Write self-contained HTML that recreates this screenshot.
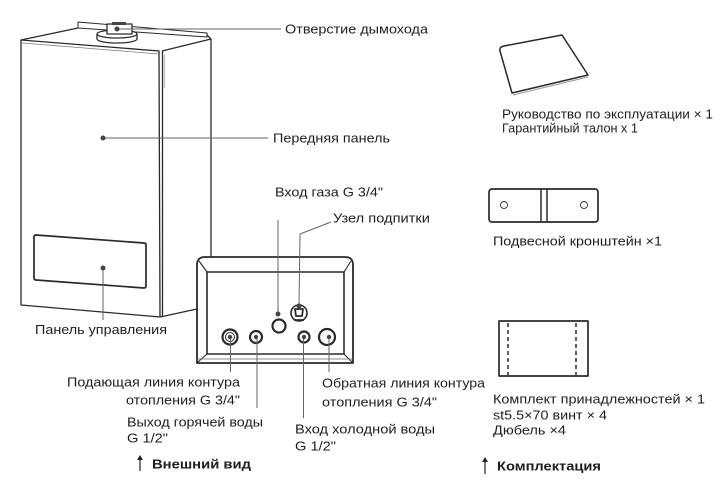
<!DOCTYPE html>
<html><head><meta charset="utf-8"><style>
html,body{margin:0;padding:0;background:#fff;}
svg{display:block;}
text{font-family:"Liberation Sans","Noto Sans CJK SC",sans-serif;font-size:13px;fill:#1e1e1e;}
.b{font-weight:bold;}
</style></head><body>
<svg width="724" height="484" viewBox="0 0 724 484" xmlns="http://www.w3.org/2000/svg">
<g fill="none" stroke="#2a2a2a" stroke-width="1.3" stroke-linejoin="round">
  <!-- boiler front face -->
  <path d="M21,40 L159,51 L160,317 L21,305 Z"/>
  <path d="M22,43 L159,54" stroke-width="0.7" stroke="#777"/>
  <line x1="162.5" y1="51" x2="162.5" y2="316"/>
  <line x1="164.5" y1="55" x2="164.5" y2="88" stroke="#999" stroke-width="0.7"/>
  <!-- side -->
  <path d="M162,51 L211,39 L211,257"/>
  <path d="M160,317 L197,309"/>
  <!-- top back edges -->
  <path d="M21,40 L78,28"/>
  <path d="M207,35 L211,39"/>
  <!-- plate -->
  <path d="M78,22 L207,33 L207,37 L78,28 Z" stroke-width="1"/>
  <!-- flue -->
  <path d="M97,34 L97,39 A20,4 0 0 0 137,39 L137,34" fill="#fff"/>
  <ellipse cx="117" cy="34" rx="20" ry="4" fill="#fff"/>
  <rect x="107" y="24" width="25" height="10" fill="#fff"/>
  <rect x="112" y="22" width="14" height="3" fill="#444" stroke="none"/>
  <!-- control panel -->
  <path d="M36,235 L144,243 Q146,243 146,245 L146,286 Q146,288 144,288 L36,280 Q34,280 34,278 L34,237 Q34,235 36,235 Z" stroke-width="1.7"/>
  <!-- bottom panel -->
  <path d="M205,257 L345,257 Q353,257 353,265 L353,363 L197,363 L197,265 Q197,257 205,257 Z" fill="#fff" stroke-width="1.8"/>
  <rect x="207" y="272" width="137" height="82" stroke-width="1.6"/>
  <path d="M199,261 L207,272 M351,261 L344,272 M198,362 L207,354 M352,362 L344,354" stroke-width="1.1"/>
  <path d="M197,359 L353,359" stroke-width="0.8" stroke="#666"/>
  <!-- connectors -->
  <circle cx="230" cy="337" r="7.5" stroke-width="2.2"/>
  <circle cx="230" cy="337" r="4.5" stroke-width="1"/>
  <circle cx="256" cy="337" r="6" stroke-width="2.2"/>
  <circle cx="304" cy="337" r="5.5" stroke-width="2.2"/>
  <circle cx="327" cy="337" r="8" stroke-width="2.2"/>
  <circle cx="279" cy="326" r="6.5" stroke-width="2.2"/>
  <circle cx="299" cy="313" r="8" stroke-width="1.6"/>
  <path d="M295,309 L303,309 L302,316 L296,316 Z M294,320 L304,320" stroke-width="1.8"/>
  <!-- kit items -->
  <path d="M504,46 L562,35 L588,75 L512,93 L500,51 Q499,47 504,46 Z" stroke-width="1.5"/>
  <path d="M513,95 L588,77" stroke="#999" stroke-width="1"/>
  <rect x="489" y="189" width="109" height="33" rx="3" stroke-width="1.7"/>
  <line x1="541" y1="189" x2="541" y2="222" stroke-width="1.5"/>
  <line x1="547" y1="189" x2="547" y2="222" stroke-width="1.5"/>
  <circle cx="504" cy="205" r="3.5" stroke-width="0.9"/>
  <circle cx="584" cy="205" r="3.5" stroke-width="0.9"/>
  <rect x="499" y="321" width="89" height="55" stroke-width="1.7"/>
  <line x1="508" y1="323" x2="508" y2="375" stroke-dasharray="4,3" stroke-width="1.5"/>
  <line x1="576" y1="323" x2="576" y2="375" stroke-dasharray="4,3" stroke-width="1.5"/>
</g>
<!-- leader lines -->
<g fill="none" stroke="#666" stroke-width="1">
  <line x1="117" y1="29" x2="281" y2="29"/>
  <line x1="103" y1="138" x2="268" y2="138"/>
  <line x1="103" y1="268" x2="103" y2="320"/>
  <line x1="278" y1="220" x2="278" y2="314"/>
  <path d="M331,222 L300,234 L299,306"/>
  <line x1="230.5" y1="337" x2="230.5" y2="372"/>
  <line x1="257" y1="337" x2="257" y2="408"/>
  <line x1="303.5" y1="337" x2="303.5" y2="418"/>
  <line x1="329" y1="337" x2="329" y2="372"/>
</g>
<g fill="#444">
  <circle cx="117" cy="29" r="2.5"/>
  <circle cx="103" cy="138" r="2.5"/>
  <circle cx="103" cy="268" r="2.5"/>
  <circle cx="278" cy="314" r="2.5"/>
  <circle cx="299" cy="306" r="2.5"/>
  <circle cx="230" cy="337" r="2.2"/>
  <circle cx="256" cy="337" r="2.2"/>
  <circle cx="304" cy="337" r="2.2"/>
  <circle cx="329" cy="337" r="2.2"/>
</g>
<!-- arrows -->
<g stroke="#222" stroke-width="1.2" fill="#222">
  <line x1="140" y1="471" x2="140" y2="458"/>
  <path d="M137,460 L140,455 L143,460 Z" stroke="none"/>
  <line x1="485" y1="474" x2="485" y2="460"/>
  <path d="M482,462 L485,457 L488,462 Z" stroke="none"/>
</g>
<!-- labels -->
<text x="285" y="33.5" textLength="143" lengthAdjust="spacingAndGlyphs">Отверстие дымохода</text>
<text x="273" y="142.5" textLength="117" lengthAdjust="spacingAndGlyphs">Передняя панель</text>
<text x="275" y="196.5" textLength="108" lengthAdjust="spacingAndGlyphs">Вход газа G 3/4"</text>
<text x="333" y="222.5" textLength="97" lengthAdjust="spacingAndGlyphs">Узел подпитки</text>
<text x="35" y="334" textLength="132" lengthAdjust="spacingAndGlyphs">Панель управления</text>
<text x="67" y="386.5" textLength="173" lengthAdjust="spacingAndGlyphs">Подающая линия контура</text>
<text x="126" y="404.5" textLength="114" lengthAdjust="spacingAndGlyphs">отопления G 3/4"</text>
<text x="127" y="426.5" textLength="136" lengthAdjust="spacingAndGlyphs">Выход горячей воды</text>
<text x="127" y="442.5" textLength="41" lengthAdjust="spacingAndGlyphs">G 1/2"</text>
<text class="b" x="152" y="468.5" textLength="99" lengthAdjust="spacingAndGlyphs">Внешний вид</text>
<text x="295" y="433.5" textLength="140" lengthAdjust="spacingAndGlyphs">Вход холодной воды</text>
<text x="295" y="450.5" textLength="41" lengthAdjust="spacingAndGlyphs">G 1/2"</text>
<text x="322" y="387.5" textLength="163" lengthAdjust="spacingAndGlyphs">Обратная линия контура</text>
<text x="322" y="406.5" textLength="115" lengthAdjust="spacingAndGlyphs">отопления G 3/4"</text>
<text x="502" y="118.5" textLength="211" lengthAdjust="spacingAndGlyphs">Руководство по эксплуатации × 1</text>
<text x="502" y="132.5" textLength="136" lengthAdjust="spacingAndGlyphs">Гарантийный талон x 1</text>
<text x="493" y="245.5" textLength="169" lengthAdjust="spacingAndGlyphs">Подвесной кронштейн ×1</text>
<text x="493" y="403.5" textLength="212" lengthAdjust="spacingAndGlyphs">Комплект принадлежностей × 1</text>
<text x="493" y="419.5" textLength="114" lengthAdjust="spacingAndGlyphs">st5.5×70 винт × 4</text>
<text x="493" y="434.5" textLength="73" lengthAdjust="spacingAndGlyphs">Дюбель ×4</text>
<text class="b" x="497" y="470.5" textLength="104" lengthAdjust="spacingAndGlyphs">Комплектация</text>
</svg>
</body></html>
